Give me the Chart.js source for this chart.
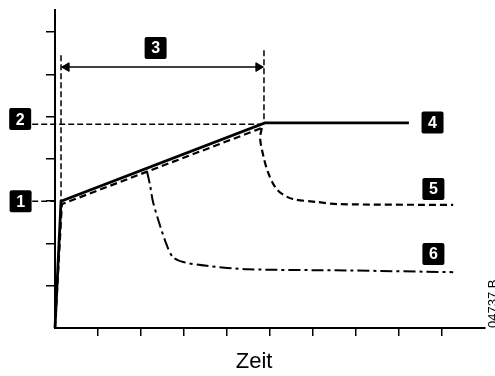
<!DOCTYPE html>
<html>
<head>
<meta charset="utf-8">
<script src="https://cdn.jsdelivr.net/npm/chart.js@4/dist/chart.umd.min.js"></script>
<style>
    html, body { margin: 0; padding: 0; background: #fff; }
    #wrap { width: 495px; height: 376px; }
</style>
</head>
<body>
<div id="wrap"><canvas id="startChart" width="495" height="376"></canvas></div>
<script>
// axis ranges (in tick units)
const xMax = 10;
const yMax = 7.52;

// curve 4: full current ramp
const rampX = [0, 0.14, 4.88, 8.23];
const rampY = [0, 3.0, 4.85, 4.85];

// curve 5: dashed, straight part and drop-off
const dashLineX = [0, 0.16, 4.81];
const dashLineY = [0, 2.93, 4.73];
const dashDropX = [4.81, 4.77, 4.84, 4.95, 5.12, 5.28, 5.53, 6.09, 6.58, 9.26];
const dashDropY = [4.73, 4.49, 4.09, 3.69, 3.33, 3.17, 3.05, 2.98, 2.93, 2.91];

// curve 6: dash-dot drop-off
const dotDropX = [2.14, 2.21, 2.28, 2.44, 2.60, 2.74, 2.98, 3.53, 4.49, 6.86, 9.26];
const dotDropY = [3.70, 3.38, 2.98, 2.43, 1.96, 1.68, 1.56, 1.47, 1.39, 1.36, 1.32];

// guide lines
const guideStartX = [0.14, 0.14];
const guideStartY = [6.45, 3.0];
const guideEndX = [4.86, 4.86];
const guideEndY = [6.57, 4.82];
const guideLevelX = [-0.53, 4.86];
const guideLevelY = [4.82, 4.82];
const guideInitX = [-0.53, 0];
const guideInitY = [3.0, 3.0];
const arrowX = [0.16, 4.84];
const arrowY = [6.17, 6.17];
const arrowHeadX = [0.27, 4.73];
const arrowHeadRot = [-90, 90];

// numbered callouts
const calloutText = ['1', '2', '3', '4', '5', '6'];
const calloutX = [-0.80, -0.81, 2.34, 8.78, 8.80, 8.80];
const calloutY = [3.0, 4.94, 6.62, 4.86, 3.29, 1.75];

const axisTitle = 'Zeit';
const axisTitleX = 4.63;
const drawingNo = '04737 B';

function pts(xs, ys) {
    return xs.map((x, i) => ({ x: x, y: ys[i] }));
}

function line(xs, ys, width, dash, tension) {
    return {
        data: pts(xs, ys),
        borderColor: '#000',
        borderWidth: width,
        borderDash: dash || [],
        tension: tension || 0,
        pointRadius: 0,
        fill: false,
        clip: false
    };
}

// callouts, axis title and drawing number
const annotations = {
    id: 'annotations',
    afterDatasetsDraw(chart) {
        const ctx = chart.ctx;
        const xs = chart.scales.x;
        const ys = chart.scales.y;
        ctx.save();
        calloutText.forEach((t, i) => {
            const cx = xs.getPixelForValue(calloutX[i]);
            const cy = ys.getPixelForValue(calloutY[i]);
            ctx.fillStyle = '#000';
            ctx.beginPath();
            ctx.roundRect(cx - 11, cy - 11, 22, 22, 2);
            ctx.fill();
            ctx.fillStyle = '#fff';
            ctx.font = 'bold 16px "Liberation Sans", Arial, sans-serif';
            ctx.textAlign = 'center';
            ctx.textBaseline = 'middle';
            ctx.fillText(t, cx, cy + 1);
        });

        ctx.fillStyle = '#000';
        ctx.font = '22px "Liberation Sans", Arial, sans-serif';
        ctx.textAlign = 'center';
        ctx.textBaseline = 'alphabetic';
        ctx.fillText(axisTitle, xs.getPixelForValue(axisTitleX), ys.bottom + 40);

        ctx.translate(xs.right + 8, ys.bottom);
        ctx.rotate(-Math.PI / 2);
        ctx.font = '13px "Liberation Sans", Arial, sans-serif';
        ctx.textAlign = 'left';
        ctx.textBaseline = 'middle';
        ctx.fillText(drawingNo, 0, 0);
        ctx.restore();
    }
};

const tickColor = (lo, hi) => c => (c.tick.value > lo && c.tick.value < hi) ? '#000' : 'rgba(0,0,0,0)';

new Chart(document.getElementById('startChart'), {
    type: 'line',
    data: {
        datasets: [
            line(guideStartX, guideStartY, 1.5, [6, 3]),
            line(guideEndX, guideEndY, 1.5, [6, 3]),
            line(guideLevelX, guideLevelY, 1.5, [6, 3]),
            line(guideInitX, guideInitY, 1.5, [6, 3]),
            line(arrowX, arrowY, 1.5),
            {
                type: 'scatter',
                data: pts(arrowHeadX, arrowY),
                pointStyle: 'triangle',
                rotation: arrowHeadRot,
                pointRadius: 5,
                pointBackgroundColor: '#000',
                pointBorderColor: '#000',
                pointBorderWidth: 1,
                clip: false
            },
            line(dotDropX, dotDropY, 2, [12, 4, 3, 4], 0.3),
            line(dashLineX, dashLineY, 2.2, [7, 4]),
            line(dashDropX, dashDropY, 2.2, [7, 4], 0.3),
            line(rampX, rampY, 2.8)
        ]
    },
    options: {
        responsive: false,
        animation: false,
        events: [],
        layout: { padding: { top: 10, right: 10, left: 0, bottom: 0 } },
        plugins: { legend: { display: false }, tooltip: { enabled: false } },
        scales: {
            x: {
                type: 'linear',
                min: 0,
                max: xMax,
                ticks: { display: false, stepSize: 1, includeBounds: false },
                grid: { drawOnChartArea: false, drawTicks: true, tickLength: 8, lineWidth: 1.5, color: tickColor(0, xMax) },
                border: { display: true, color: '#000', width: 2 },
                afterFit: s => { s.height = 48; }
            },
            y: {
                type: 'linear',
                min: 0,
                max: yMax,
                ticks: { display: false, stepSize: 1, includeBounds: false },
                grid: { drawOnChartArea: false, drawTicks: true, tickLength: 9, lineWidth: 1.5, color: tickColor(0, yMax) },
                border: { display: true, color: '#000', width: 2 },
                afterFit: s => { s.width = 55; }
            }
        }
    },
    plugins: [annotations]
});
</script>
</body>
</html>
